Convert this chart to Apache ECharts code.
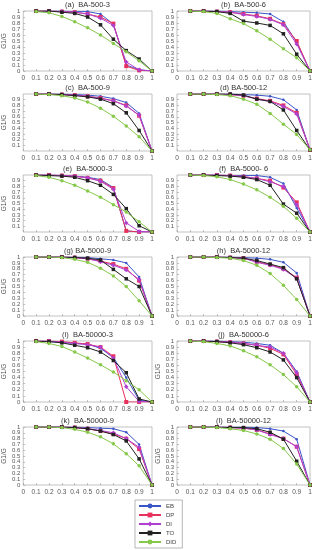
<!DOCTYPE html>
<html><head><meta charset="utf-8">
<script src="https://cdn.jsdelivr.net/npm/echarts@6/dist/echarts.min.js"></script>
<style>html,body{margin:0;padding:0;background:#fff}#c{width:316px;height:550px}</style>
</head><body><div id="c"></div>
<script>
const xValues = [0.1,0.2,0.3,0.4,0.5,0.6,0.7,0.8,0.9,1.0];
const seriesNames = ['EB','DP','DI','TO','DID'];
const titles = ['(a)  BA-500-3','(b)  BA-500-6','(c)  BA-500-9','(d) BA-500-12','(e)  BA-5000-3','(f)  BA-5000- 6','(g) BA-5000-9','(h)  BA-5000-12','(i)  BA-50000-3','(j)  BA-50000-6','(k)  BA-50000-9','(l)  BA-50000-12'];

const a_EB  = [1,1,1,0.99,0.99,0.95,0.78,0.10,0.02,0];
const a_DP  = [1,1,0.99,0.98,0.95,0.90,0.79,0.08,0.01,0];
const a_DI  = [1,1,0.99,0.98,0.95,0.88,0.76,0.15,0.02,0];
const a_TO  = [1,1,0.98,0.96,0.90,0.77,0.53,0.34,0.20,0];
const a_DID = [0.99,0.97,0.91,0.82,0.72,0.60,0.46,0.32,0.17,0];

const b_EB  = [1,1,1,0.99,0.98,0.97,0.95,0.82,0.48,0];
const b_DP  = [1,1,0.99,0.98,0.95,0.92,0.87,0.78,0.50,0];
const b_DI  = [1,1,0.99,0.98,0.94,0.91,0.86,0.77,0.45,0];
const b_TO  = [1,1,0.99,0.96,0.83,0.80,0.76,0.62,0.28,0];
const b_DID = [1,0.99,0.96,0.87,0.79,0.67,0.53,0.37,0.22,0];

const c_EB  = [1,1,1,0.99,0.98,0.96,0.92,0.85,0.66,0];
const c_DP  = [1,1,0.99,0.98,0.96,0.93,0.88,0.80,0.62,0];
const c_DI  = [1,1,0.99,0.98,0.96,0.92,0.88,0.79,0.63,0];
const c_TO  = [1,1,0.99,0.97,0.95,0.91,0.83,0.67,0.36,0];
const c_DID = [1,0.99,0.97,0.93,0.86,0.75,0.61,0.44,0.25,0];

const d_EB  = [1,1,1,1,0.99,0.98,0.96,0.90,0.72,0.02];
const d_DP  = [1,1,1,0.99,0.97,0.92,0.88,0.80,0.67,0.02];
const d_DI  = [1,1,1,0.99,0.97,0.91,0.87,0.78,0.65,0.02];
const d_TO  = [1,1,1,1,0.98,0.91,0.87,0.72,0.36,0.02];
const d_DID = [1,1,0.99,0.97,0.91,0.82,0.66,0.47,0.29,0.02];

const e_EB  = [1,1,0.99,0.98,0.96,0.92,0.78,0.02,0,0];
const e_DP  = [1,1,0.99,0.98,0.95,0.90,0.77,0.02,0,0];
const e_DI  = [1,1,0.99,0.98,0.95,0.89,0.75,0.16,0.01,0];
const e_TO  = [1,0.99,0.98,0.96,0.90,0.82,0.66,0.41,0.11,0];
const e_DID = [0.99,0.96,0.90,0.82,0.72,0.61,0.48,0.35,0.18,0];

const f_EB  = [1,1,1,0.99,0.99,0.99,0.96,0.85,0.42,0];
const f_DP  = [1,1,1,0.99,0.97,0.94,0.90,0.78,0.52,0];
const f_DI  = [1,1,1,0.99,0.97,0.94,0.88,0.80,0.48,0];
const f_TO  = [1,1,0.99,0.98,0.96,0.92,0.82,0.49,0.33,0];
const f_DID = [1,0.99,0.97,0.92,0.84,0.74,0.61,0.45,0.24,0];

const g_EB  = [1,1,1,1,0.99,0.97,0.95,0.90,0.66,0];
const g_DP  = [1,1,1,0.99,0.97,0.93,0.88,0.80,0.60,0];
const g_DI  = [1,1,1,0.99,0.97,0.92,0.86,0.78,0.62,0];
const g_TO  = [1,1,1,0.99,0.98,0.95,0.79,0.63,0.50,0];
const g_DID = [1,1,0.99,0.96,0.91,0.81,0.68,0.50,0.26,0];

const h_EB  = [1,1,1,1,0.99,0.98,0.96,0.91,0.73,0];
const h_DP  = [1,1,1,0.99,0.98,0.92,0.87,0.80,0.65,0];
const h_DI  = [1,1,1,0.99,0.98,0.91,0.86,0.79,0.64,0];
const h_TO  = [1,1,1,0.99,0.98,0.94,0.88,0.82,0.63,0];
const h_DID = [1,1,0.99,0.98,0.94,0.86,0.72,0.52,0.28,0];

const i_EB  = [1,0.99,0.98,0.96,0.95,0.88,0.73,0.40,0.03,0];
const i_DP  = [1,1,0.99,0.97,0.95,0.90,0.75,0,0,0];
const i_DI  = [1,1,0.98,0.96,0.94,0.90,0.72,0.25,0.01,0];
const i_TO  = [1,0.99,0.97,0.93,0.89,0.82,0.68,0.48,0.05,0];
const i_DID = [0.99,0.96,0.91,0.82,0.72,0.61,0.49,0.35,0.20,0];

const j_EB  = [1,1,1,0.99,0.98,0.96,0.93,0.80,0.50,0];
const j_DP  = [1,1,0.99,0.98,0.96,0.93,0.88,0.78,0.45,0];
const j_DI  = [1,1,0.99,0.98,0.96,0.93,0.90,0.80,0.48,0];
const j_TO  = [1,1,0.99,0.97,0.94,0.89,0.82,0.69,0.40,0];
const j_DID = [1,0.99,0.96,0.92,0.84,0.74,0.61,0.45,0.25,0];

const k_EB  = [1,1,1,1,0.99,0.98,0.97,0.91,0.70,0];
const k_DP  = [1,1,1,0.99,0.97,0.93,0.88,0.80,0.62,0];
const k_DI  = [1,1,1,0.99,0.97,0.94,0.90,0.80,0.65,0];
const k_TO  = [1,1,1,0.99,0.97,0.93,0.87,0.76,0.45,0];
const k_DID = [1,1,0.99,0.96,0.91,0.83,0.71,0.54,0.33,0];

const l_EB  = [1,1,1,1,1,0.99,0.97,0.93,0.79,0];
const l_DP  = [1,1,1,0.99,0.98,0.95,0.88,0.80,0.66,0];
const l_DI  = [1,1,1,0.99,0.98,0.95,0.87,0.80,0.66,0];
const l_TO  = [1,1,1,0.99,0.99,0.97,0.91,0.79,0.41,0];
const l_DID = [1,1,0.99,0.97,0.94,0.88,0.79,0.63,0.36,0];

const panels = [
  [a_EB,a_DP,a_DI,a_TO,a_DID],[b_EB,b_DP,b_DI,b_TO,b_DID],
  [c_EB,c_DP,c_DI,c_TO,c_DID],[d_EB,d_DP,d_DI,d_TO,d_DID],
  [e_EB,e_DP,e_DI,e_TO,e_DID],[f_EB,f_DP,f_DI,f_TO,f_DID],
  [g_EB,g_DP,g_DI,g_TO,g_DID],[h_EB,h_DP,h_DI,h_TO,h_DID],
  [i_EB,i_DP,i_DI,i_TO,i_DID],[j_EB,j_DP,j_DI,j_TO,j_DID],
  [k_EB,k_DP,k_DI,k_TO,k_DID],[l_EB,l_DP,l_DI,l_TO,l_DID]
];
const yLabelShown = [true,false,true,false,true,false,true,false,true,true,true,true];

const colors = ['#3a55c8','#e8305c','#b040d0','#222222','#86c84a'];
const symbols = ['circle','rect','diamond','rect','circle'];
const symSizes = [2.5,4,4.5,3.5,3.5];

const colLeft = [23,177], colWidth = [129,133];
const rows = [[11,60],[94,57],[175,57],[257,59],[341,61],[427,58]];
const textCol = '#555';
const font = 'Liberation Sans';

const grid=[], xAxis=[], yAxis=[], series=[], title=[];
panels.forEach((p,idx)=>{
  const r = Math.floor(idx/2), c = idx%2;
  grid.push({left:colLeft[c], top:rows[r][0], width:colWidth[c], height:rows[r][1], show:true, borderColor:'#999', borderWidth:0.6, backgroundColor:'#fff'});
  title.push({text:titles[idx], left:colLeft[c]+colWidth[c]/2, textAlign:'center', top:rows[r][0]-10, padding:0,
    textStyle:{fontSize:7.5,fontWeight:'normal',color:'#333',fontFamily:font}});
  xAxis.push({type:'value', gridIndex:idx, min:0, max:1, interval:0.1,
    axisLine:{show:false}, axisTick:{show:true, inside:true, length:2, lineStyle:{color:'#999',width:0.6}},
    splitLine:{show:false},
    axisLabel:{fontSize:6.5, color:textCol, margin:4, fontFamily:font, formatter:v=>String(Math.round(v*10)/10)}});
  const ya = {type:'value', gridIndex:idx, min:0, max:1, interval:0.1,
    axisLine:{show:false}, axisTick:{show:true, inside:true, length:2, lineStyle:{color:'#999',width:0.6}},
    splitLine:{show:false},
    axisLabel:{fontSize:6, color:textCol, margin:3, fontFamily:font, formatter:v=>String(Math.round(v*10)/10)}};
  if (yLabelShown[idx]) {
    ya.name = 'G1/G'; ya.nameLocation = 'middle'; ya.nameGap = 13; ya.nameRotate = 90;
    ya.nameTextStyle = {fontSize:6.5,color:textCol,fontFamily:font};
  }
  yAxis.push(ya);
  p.forEach((vals,si)=>{
    series.push({name:seriesNames[si], type:'line', xAxisIndex:idx, yAxisIndex:idx,
      data: xValues.map((x,k)=>[x,vals[k]]),
      symbol:symbols[si], symbolSize:symSizes[si], showSymbol:true,
      lineStyle:{width:1,color:colors[si]}, itemStyle:{color:colors[si]},
      animation:false, z:2+si});
  });
});

const chart = echarts.init(document.getElementById('c'), null, {renderer:'canvas'});
chart.setOption({
  animation:false,
  color:colors,
  title:title,
  grid:grid, xAxis:xAxis, yAxis:yAxis, series:series,
  legend:{data:seriesNames, orient:'vertical', left:135, top:500, height:60, itemWidth:22, itemHeight:6, itemGap:1,
    padding:[2,6,2,3], borderColor:'#888', borderWidth:0.6, backgroundColor:'#fff',
    textStyle:{fontSize:6,color:'#444',fontFamily:font, lineHeight:8}}
});
</script></body></html>
